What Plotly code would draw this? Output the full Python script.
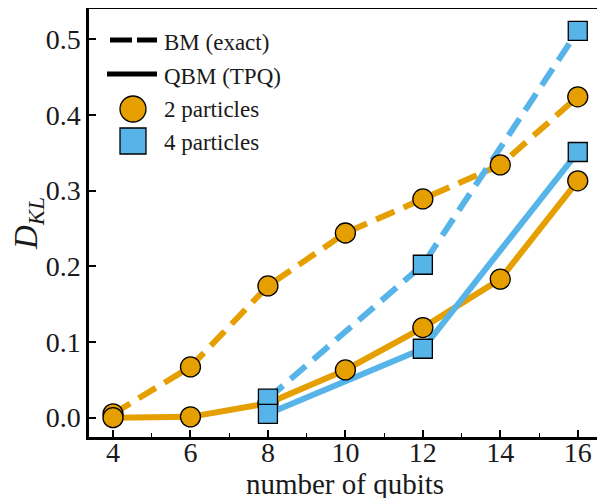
import plotly.graph_objects as go

qubits_2p = [4, 6, 8, 10, 12, 14, 16]
bm_2p = [0.005, 0.067, 0.174, 0.244, 0.289, 0.334, 0.424]
qbm_2p = [0.000, 0.001, 0.019, 0.063, 0.119, 0.183, 0.313]

qubits_4p = [8, 12, 16]
bm_4p = [0.025, 0.202, 0.511]
qbm_4p = [0.005, 0.091, 0.351]

x_ticks = [4, 6, 8, 10, 12, 14, 16]
x_minor = [5, 7, 9, 11, 13, 15]
y_ticks = [0.0, 0.1, 0.2, 0.3, 0.4, 0.5]

legend_labels = ["BM (exact)", "QBM (TPQ)", "2 particles", "4 particles"]

ORANGE = "#E69F00"
BLUE = "#56B4E9"
FONT = "Liberation Serif"
TXT = "#1a1a1a"
DASH = "20px,10px"
LW = 6

fig = go.Figure()

# lines first so all markers sit on top
fig.add_trace(go.Scatter(x=qubits_2p, y=bm_2p, mode="lines",
                         line=dict(color=ORANGE, width=LW, dash=DASH), showlegend=False))
fig.add_trace(go.Scatter(x=qubits_2p, y=qbm_2p, mode="lines",
                         line=dict(color=ORANGE, width=LW), showlegend=False))
fig.add_trace(go.Scatter(x=qubits_4p, y=bm_4p, mode="lines",
                         line=dict(color=BLUE, width=LW, dash=DASH), showlegend=False))
fig.add_trace(go.Scatter(x=qubits_4p, y=qbm_4p, mode="lines",
                         line=dict(color=BLUE, width=LW), showlegend=False))

circ = dict(symbol="circle", size=20, color=ORANGE, line=dict(color="black", width=1.3))
sq = dict(symbol="square", size=19, color=BLUE, line=dict(color="black", width=1.3))
fig.add_trace(go.Scatter(x=qubits_2p, y=bm_2p, mode="markers", marker=circ, showlegend=False))
fig.add_trace(go.Scatter(x=qubits_2p, y=qbm_2p, mode="markers", marker=circ, showlegend=False))
fig.add_trace(go.Scatter(x=qubits_4p, y=bm_4p, mode="markers", marker=sq, showlegend=False))
fig.add_trace(go.Scatter(x=qubits_4p, y=qbm_4p, mode="markers", marker=sq, showlegend=False))

# plot area in page pixels (page has an 8px body margin)
PL, PR, PT, PB = 89, 601, 9, 437
def px(x):
    return (x - PL) / (PR - PL)
def py(y):
    return 1 - (y - PT) / (PB - PT)

# hand-drawn legend
fig.add_shape(type="line", xref="paper", yref="paper", x0=px(110), x1=px(157), y0=py(40), y1=py(40),
              line=dict(color="black", width=5, dash="22px,5px"))
fig.add_shape(type="line", xref="paper", yref="paper", x0=px(107), x1=px(157), y0=py(74), y1=py(74),
              line=dict(color="black", width=5))
fig.add_shape(type="circle", xref="paper", yref="paper", x0=px(120), x1=px(146), y0=py(96), y1=py(122),
              fillcolor=ORANGE, line=dict(color="black", width=1.3))
fig.add_shape(type="rect", xref="paper", yref="paper", x0=px(120), x1=px(146), y0=py(128), y1=py(154),
              fillcolor=BLUE, line=dict(color="black", width=1.3))
for lab, yc in zip(legend_labels, [42, 76, 109, 142]):
    fig.add_annotation(xref="paper", yref="paper", x=px(162), y=py(yc), text=lab, showarrow=False,
                       xanchor="left", yanchor="middle", font=dict(family=FONT, size=23, color=TXT))

axis_common = dict(
    showgrid=False, zeroline=False, showline=True, linecolor="black", linewidth=2.5,
    mirror=True, ticks="inside", ticklen=7, tickwidth=1.5, tickcolor="black",
    tickfont=dict(family=FONT, size=28, color=TXT), automargin=False,
)

fig.update_xaxes(**axis_common, range=[3.38, 16.6], tickvals=x_ticks,
                 ticktext=[str(v) for v in x_ticks], ticklabelstandoff=-11,
                 minor=dict(tickvals=x_minor, ticks="inside", ticklen=4,
                            tickwidth=1.2, tickcolor="black"),
                 title=dict(text="number of qubits", font=dict(family=FONT, size=29, color=TXT),
                            standoff=4))
fig.update_yaxes(**axis_common, range=[-0.0256, 0.54], tickvals=y_ticks,
                 ticktext=[f"{v:.1f}" for v in y_ticks],
                 title=dict(text="<i>D</i><sub><i>KL</i></sub>",
                            font=dict(family=FONT, size=33, color=TXT), standoff=6))

fig.update_layout(
    width=605, height=498,
    margin=dict(l=PL - 8, r=605 - (PR - 8), t=PT - 8, b=498 - (PB - 8), autoexpand=False),
    paper_bgcolor="white", plot_bgcolor="white",
    font=dict(family=FONT, color=TXT),
    showlegend=False,
)

fig.write_html("out.html")
